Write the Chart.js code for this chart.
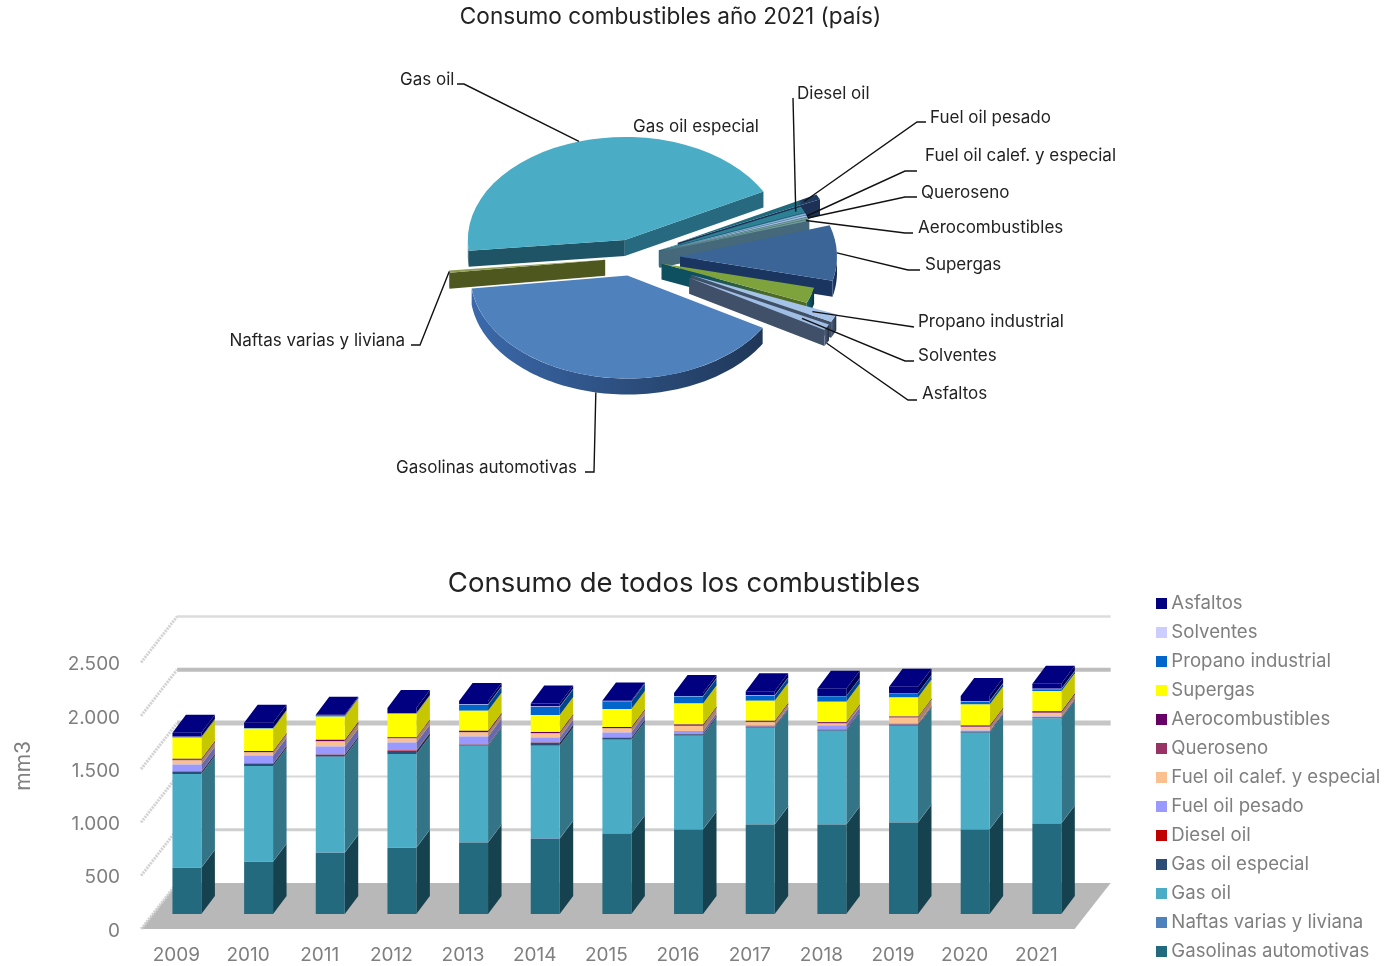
<!DOCTYPE html>
<html lang="es">
<head>
<meta charset="utf-8">
<title>Consumo de combustibles</title>
<script src="https://cdn.jsdelivr.net/npm/chart.js@4/dist/chart.umd.min.js"></script>
<style>
  html, body { margin: 0; background: #fff; overflow: hidden; width: 1384px; height: 966px; }
  canvas { position: absolute; display: block; }
  #pie { left: 0; top: 0; }
  #bars { left: -16.5px; top: 540px; }
</style>
</head>
<body>
<canvas id="pie" width="1341" height="520"></canvas>
<canvas id="bars" width="1400" height="474"></canvas>
<script>
const years = ["2009","2010","2011","2012","2013","2014","2015","2016","2017","2018","2019","2020","2021"];
const yTicks = [0, 500, 1000, 1500, 2000, 2500];

const fuels = ["Gasolinas automotivas","Naftas varias y liviana","Gas oil","Gas oil especial","Diesel oil","Fuel oil pesado","Fuel oil calef. y especial","Queroseno","Aerocombustibles","Supergas","Propano industrial","Solventes","Asfaltos"];

// mm3 per year, bottom of the stack first
const gasolinas = [434,490,575,622,670,707,754,792,839,839,858,792,849];
const naftas = [3,3,3,3,3,3,3,3,3,3,3,3,3];
const gasOil = [877,896,896,877,905,868,877,877,905,877,905,905,981];
const gasOilEspecial = [19,19,19,28,9,28,19,14,9,9,9,9,9];
const dieselOil = [3,3,3,3,3,3,3,3,3,3,3,3,3];
const fuelPesado = [66,75,75,75,75,47,47,28,12,38,10,10,8];
const fuelCalef = [38,28,47,38,38,38,38,47,28,19,52,33,33];
const queroseno = [6,6,6,5,5,5,5,5,5,5,5,5,5];
const aerocombustibles = [10,10,10,8,10,8,8,8,8,8,8,8,10];
const supergas = [198,207,217,217,189,160,170,198,189,189,179,198,189];
const propano = [5,5,5,5,57,75,66,66,47,52,38,28,19];
const solventes = [4,4,4,4,4,4,4,4,4,4,4,4,4];
const asfaltos = [38,47,9,47,29,29,9,28,38,66,57,48,47];

const seriesValues = [gasolinas,naftas,gasOil,gasOilEspecial,dieselOil,fuelPesado,fuelCalef,queroseno,aerocombustibles,supergas,propano,solventes,asfaltos];
const seriesColors = ["#246a7f","#4f81bd","#4bacc6","#2c4d75","#c00000","#9999ff","#fac090","#993366","#660066","#ffff00","#0066cc","#ccccff","#000080"];

// share of 2021, same order as fuels
const pieShares = [39.5,0.36,43.9,0.83,0.97,0.28,0.28,0.28,0.25,8.67,2.44,1.28,0.97];

// pie look
const pieTopColors = ["#4f81bd","#8e9c54","#4bacc6","#1f3a5f","#2d7f93","#8fb1dc","#a4bfe3","#7aa59a","#6f9c94","#3b6497","#7ea33c","#a5c2e8","#a0bde4"];
const pieWallColors = ["#2f5488","#616e26","#27697f","#1c3155","#1f6a7d","#3f6678","#3f6678","#3f6678","#45697a","#1b3561","#0f5060","#3f5068","#3f5068"];
const pieWallTips = { 10: "#4e6b25" };
const pieExplode = [28,28,28,50,28,28,28,28,28,47,30,64,64];
const pieDrawOrder = [2,3,4,5,6,7,8,9,10,11,12,0,1];
const PIE_SHIFT_X = -37.5;
const PIE_SQUASH = 0.656;
const PIE_DEPTH = 16;

// label box [text x, text y, align, elbow x, elbow y, where the leader starts]
const pieLabelPlaces = [
  [396,468,"left",594,472,585],
  [405,341,"right",420,345,411],
  [400,80,"left",464,84,457],
  [633,127,"left",null,null,null],
  [797,94,"left",793,98,793],
  [930,118,"left",917,122,926],
  [925,156,"left",905,171,917],
  [921,193,"left",905,197,917],
  [918,228,"left",905,233,913],
  [925,265,"left",908,270,920],
  [918,322,"left",914,327,914],
  [918,356,"left",905,361,914],
  [922,394,"left",908,400,917]
];
// which slice each leader lands on, and how far out along it
const pieLeaderSlices = [0,1,2,3,4,3,6,7,8,9,11,12,12];
const pieLeaderReach = [1,1,1,0,0.95,0.9,1,1,0.98,1,0.85,0.82,1];
// the leader of these labels goes down to the base of the wall
const pieLeaderOnBase = [0,12];

const BAR_DX = 13.5, BAR_DY = 18;
const FLOOR_FRONT = 15, FLOOR_BACK = 31;
// back wall lines from 0 up; the 0 line is the edge of the floor
const gridWidths = [0,3,2,5,4,2.5];
const gridColors = ["#b8b8b8","#cfcfcf","#d8d8d8","#c6c6c6","#bdbdbd","#dcdcdc"];

Chart.defaults.font.family = "Inter, 'Open Sans', sans-serif";
Chart.defaults.animation = false;

function shade(hex, f) {
  const n = parseInt(hex.slice(1), 16);
  const c = [n >> 16, (n >> 8) & 255, n & 255].map(v => Math.min(255, Math.round(v * f)));
  return `rgb(${c[0]},${c[1]},${c[2]})`;
}

function poly(ctx, pts, fill) {
  ctx.beginPath();
  pts.forEach((p, i) => i ? ctx.lineTo(p[0], p[1]) : ctx.moveTo(p[0], p[1]));
  ctx.closePath();
  ctx.fillStyle = fill;
  ctx.fill();
}

// small square for the legend, so the text can sit closer to it
function swatch(color) {
  const c = document.createElement("canvas");
  c.width = 11;
  c.height = 11;
  const g = c.getContext("2d");
  g.fillStyle = color;
  g.fillRect(0, 0, 11, 11);
  return c;
}

// squashes the arcs, moves them apart and puts a wall under each
const pie3d = {
  id: "pie3d",
  afterDatasetsUpdate(chart) {
    chart.getDatasetMeta(0).data.forEach((arc, i) => {
      const mid = (arc.startAngle + arc.endAngle) / 2;
      arc.x += Math.cos(mid) * pieExplode[i] + PIE_SHIFT_X;
      arc.y += Math.sin(mid) * pieExplode[i];
    });
  },
  beforeDatasetDraw(chart) {
    const ctx = chart.ctx;
    const a = chart.chartArea;
    const cy = (a.top + a.bottom) / 2;
    const arcs = chart.getDatasetMeta(0).data;
    const toY = y => cy + (y - cy) * PIE_SQUASH;

    pieDrawOrder.forEach(i => {
      const arc = arcs[i];
      const r = arc.outerRadius;
      const wall = pieWallColors[i];
      const edge = (ang) => [arc.x + r * Math.cos(ang), toY(arc.y + r * Math.sin(ang))];
      const apex = [arc.x, toY(arc.y)];
      const down = p => [p[0], p[1] + PIE_DEPTH];

      if (Math.cos(arc.startAngle) < 0) {
        const p = edge(arc.startAngle);
        poly(ctx, [apex, p, down(p), down(apex)], shade(wall, 0.8));
      }
      if (Math.cos(arc.endAngle) > 0) {
        const p = edge(arc.endAngle);
        let fill = wall;
        if (pieWallTips[i]) {
          fill = ctx.createLinearGradient(apex[0], 0, p[0], 0);
          fill.addColorStop(0.3, wall);
          fill.addColorStop(0.75, pieWallTips[i]);
        }
        poly(ctx, [apex, p, down(p), down(apex)], fill);
      }

      const front = [];
      for (let s = 0; s <= 90; s++) {
        const ang = arc.startAngle + (arc.endAngle - arc.startAngle) * s / 90;
        if (Math.sin(ang) > 0) front.push(edge(ang));
      }
      if (front.length > 1) {
        const xs = front.map(p => p[0]);
        const g = ctx.createLinearGradient(Math.min(...xs), 0, Math.max(...xs), 0);
        g.addColorStop(0, shade(wall, 1.25));
        g.addColorStop(1, shade(wall, 0.65));
        poly(ctx, front.concat(front.map(down).reverse()), g);
      }

      ctx.save();
      ctx.translate(0, cy);
      ctx.scale(1, PIE_SQUASH);
      ctx.translate(0, -cy);
      arc.draw(ctx);
      ctx.restore();
    });
    return false;
  },
  afterDraw(chart) {
    const ctx = chart.ctx;
    const a = chart.chartArea;
    const cy = (a.top + a.bottom) / 2;
    const arcs = chart.getDatasetMeta(0).data;
    ctx.save();
    ctx.font = "17px " + Chart.defaults.font.family;
    ctx.fillStyle = "#222";
    ctx.textBaseline = "middle";
    ctx.strokeStyle = "#111";
    ctx.lineWidth = 1.4;
    fuels.forEach((name, i) => {
      const [tx, ty, align, ex, ey, sx] = pieLabelPlaces[i];
      ctx.textAlign = align;
      ctx.fillText(name, tx, ty);
      if (ex === null) return;
      const arc = arcs[pieLeaderSlices[i]];
      const mid = (arc.startAngle + arc.endAngle) / 2;
      const r = arc.outerRadius * pieLeaderReach[i];
      const px = arc.x + r * Math.cos(mid);
      const py = cy + (arc.y + r * Math.sin(mid) - cy) * PIE_SQUASH + (pieLeaderOnBase.includes(i) ? PIE_DEPTH : 0);
      ctx.beginPath();
      ctx.moveTo(sx, ey);
      ctx.lineTo(ex, ey);
      ctx.lineTo(px, py);
      ctx.stroke();
    });
    ctx.restore();
  }
};

// Gas oil especial only shows its dark colour past the end of Diesel oil
const pieTopFill = c => {
  if (c.dataIndex !== 3) return pieTopColors[c.dataIndex];
  const g = c.chart.ctx.createLinearGradient(670, 0, 820, 0);
  g.addColorStop(0.85, "#1f6a7d");
  g.addColorStop(0.88, pieTopColors[3]);
  return g;
};

new Chart(document.getElementById("pie"), {
  type: "pie",
  data: {
    labels: fuels,
    datasets: [{ data: pieShares, backgroundColor: pieTopFill, borderWidth: 0 }]
  },
  options: {
    responsive: false,
    rotation: 120.5,
    radius: 157,
    layout: { padding: { bottom: 46.1 } },
    plugins: {
      legend: { display: false },
      tooltip: { enabled: false },
      title: {
        display: true,
        text: "Consumo combustibles año 2021 (país)",
        color: "#222",
        font: { size: 22.6, weight: "normal" },
        padding: { top: 4, bottom: 10 }
      }
    }
  },
  plugins: [pie3d]
});

// floor, back wall and the side and top faces of the bars
const bars3d = {
  id: "bars3d",
  beforeDatasetsDraw(chart) {
    const ctx = chart.ctx;
    const a = chart.chartArea;
    const y = chart.scales.y;
    const y0 = y.getPixelForValue(0);

    poly(ctx, [
      [a.left - 10, y0 + FLOOR_FRONT],
      [a.left + 26, y0 - FLOOR_BACK],
      [a.right + 28, y0 - FLOOR_BACK],
      [a.right - 8, y0 + FLOOR_FRONT]
    ], gridColors[0]);

    yTicks.forEach((v, i) => {
      const py = y.getPixelForValue(v);
      if (i) {
        ctx.strokeStyle = gridColors[i];
        ctx.lineWidth = gridWidths[i];
        ctx.beginPath();
        ctx.moveTo(a.left + 26, py - FLOOR_BACK);
        ctx.lineTo(a.right + 28, py - FLOOR_BACK);
        ctx.stroke();
      }
      ctx.save();
      ctx.strokeStyle = "#d2d2d2";
      ctx.lineWidth = 3;
      ctx.setLineDash([2, 1]);
      ctx.beginPath();
      ctx.moveTo(a.left - 10, py + FLOOR_FRONT);
      ctx.lineTo(a.left + 26, py - FLOOR_BACK);
      ctx.stroke();
      ctx.restore();
    });

    seriesValues.forEach((_, d) => {
      const color = seriesColors[d];
      chart.getDatasetMeta(d).data.forEach(bar => {
        const right = bar.x + bar.width / 2;
        poly(ctx, [
          [right, bar.y],
          [right + BAR_DX, bar.y - BAR_DY],
          [right + BAR_DX, bar.base - BAR_DY],
          [right, bar.base]
        ], shade(color, d === 0 ? 0.62 : d === 9 ? 0.78 : 0.68));
        if (d === seriesValues.length - 1) {
          const left = bar.x - bar.width / 2;
          poly(ctx, [
            [left, bar.y],
            [left + BAR_DX, bar.y - BAR_DY],
            [right + BAR_DX, bar.y - BAR_DY],
            [right, bar.y]
          ], color);
        }
      });
    });
  },
  afterDraw(chart) {
    const ctx = chart.ctx;
    ctx.save();
    ctx.translate(39.5, chart.scales.y.getPixelForValue(1390));
    ctx.rotate(-Math.PI / 2);
    ctx.font = "21px " + Chart.defaults.font.family;
    ctx.fillStyle = "#7f7f7f";
    ctx.textAlign = "center";
    ctx.textBaseline = "middle";
    ctx.fillText("mm3", 0, 0);
    ctx.restore();
  }
};

new Chart(document.getElementById("bars"), {
  type: "bar",
  data: {
    labels: years,
    datasets: fuels.map((name, i) => ({
      label: name,
      data: seriesValues[i],
      backgroundColor: seriesColors[i],
      barPercentage: 0.404,
      categoryPercentage: 1
    }))
  },
  options: {
    responsive: false,
    scales: {
      x: {
        stacked: true,
        grid: { display: false, drawTicks: false },
        border: { display: false },
        ticks: { color: "#7f7f7f", font: { size: 19 }, labelOffset: -10.5, padding: 30, maxRotation: 0 },
        afterFit(axis) { axis.height = 100; }
      },
      y: {
        stacked: true,
        min: 0,
        max: 2500,
        grid: { display: false, drawTicks: false },
        border: { display: false },
        afterBuildTicks(axis) { axis.ticks = yTicks.map(value => ({ value })); },
        ticks: {
          color: "#7f7f7f",
          font: { size: 19 },
          labelOffset: 17,
          padding: 31,
          callback: v => String(v).replace(/\B(?=(\d{3})+$)/, ".")
        },
        afterFit(axis) { axis.width = 167.1; }
      },
      gap: {
        position: "right",
        grid: { display: false, drawTicks: false },
        border: { display: false },
        ticks: { display: false },
        afterFit(axis) { axis.width = 68; }
      }
    },
    plugins: {
      tooltip: { enabled: false },
      title: {
        display: true,
        text: "Consumo de todos los combustibles",
        color: "#222",
        font: { size: 27.5, weight: "normal" },
        padding: { top: 27, bottom: 47.5 }
      },
      legend: {
        position: "right",
        reverse: true,
        labels: {
          color: "#7f7f7f",
          font: { size: 18.6 },
          usePointStyle: true,
          pointStyleWidth: 1,
          boxHeight: 11,
          padding: 10.4,
          generateLabels(chart) {
            return Chart.defaults.plugins.legend.labels.generateLabels(chart)
              .map(item => ({ ...item, pointStyle: swatch(item.fillStyle) }));
          }
        }
      }
    }
  },
  plugins: [bars3d]
});
</script>
</body>
</html>
